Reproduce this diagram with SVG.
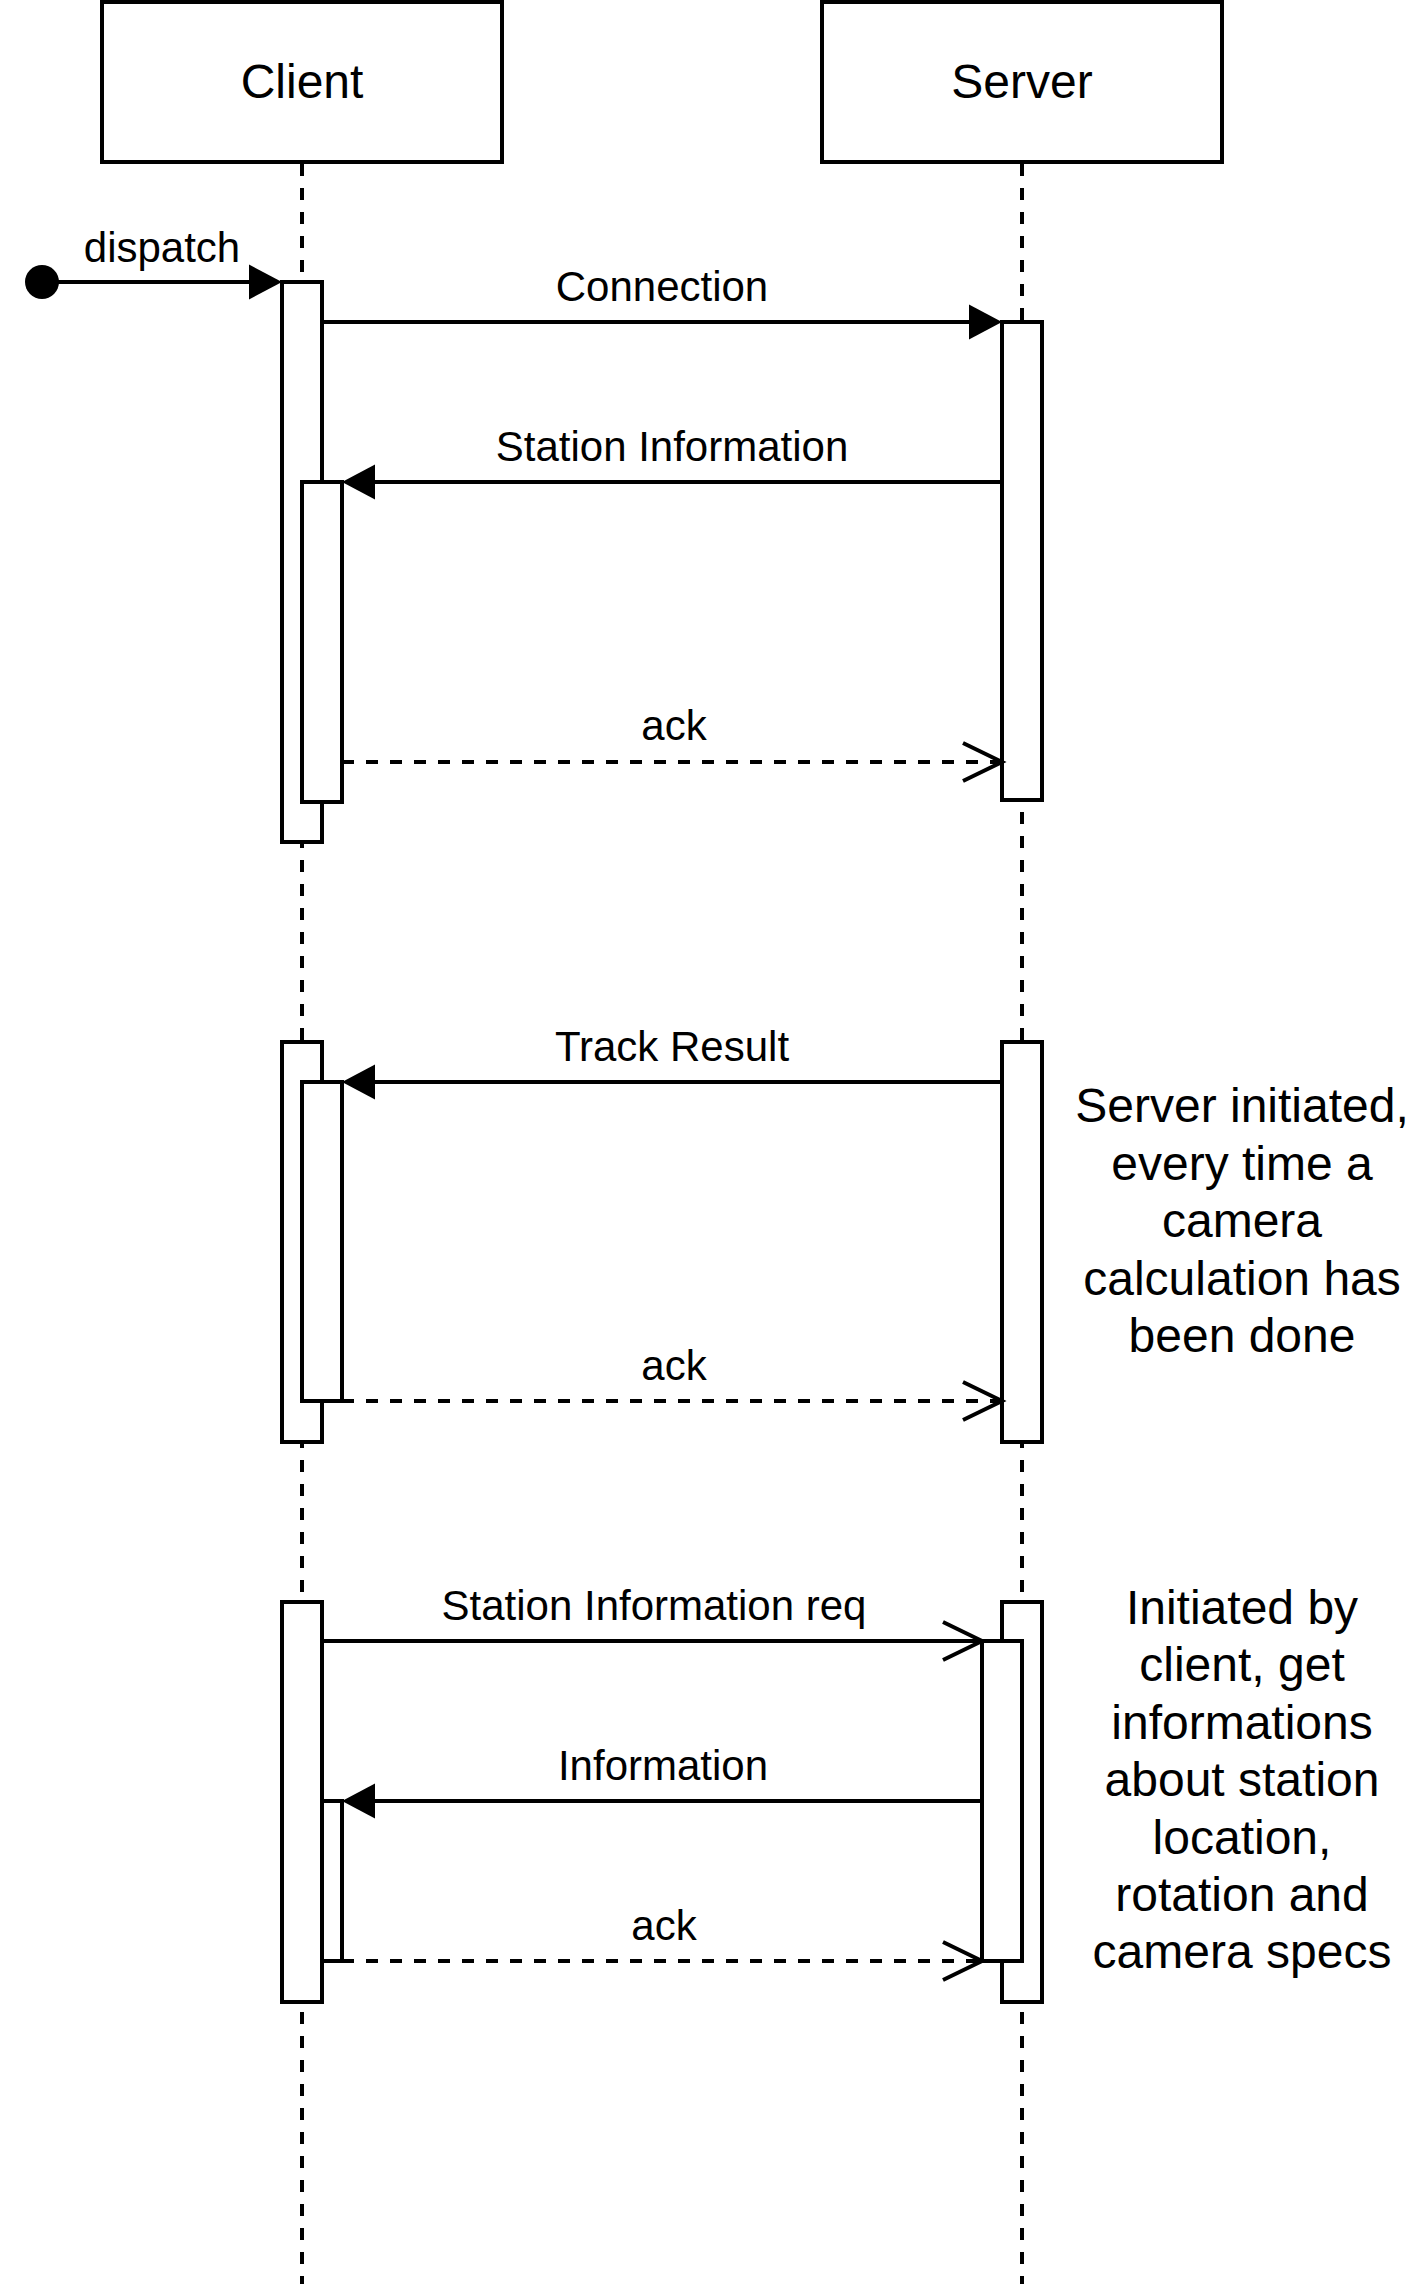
<svg xmlns="http://www.w3.org/2000/svg" width="1424" height="2284" viewBox="0 0 1424 2284">
<style>
text{font-family:"Liberation Sans",Arial,Helvetica,sans-serif;fill:#000;text-anchor:middle}
.head{font-size:48px}
.lbl{font-size:42px}
.note{font-size:48px}
.box{fill:#fff;stroke:#000;stroke-width:4}
.life{stroke:#000;stroke-width:4;stroke-dasharray:12 12;fill:none}
.msg{stroke:#000;stroke-width:4;fill:none}
.ret{stroke:#000;stroke-width:4;fill:none;stroke-dasharray:12 12}
</style>
<defs>
<marker id="filled" markerUnits="userSpaceOnUse" markerWidth="36" markerHeight="38" refX="0" refY="17.5" orient="auto" overflow="visible">
<path d="M0,0 L33,17.5 L0,35 Z" fill="#000"/>
</marker>
<marker id="open" markerUnits="userSpaceOnUse" markerWidth="44" markerHeight="44" refX="39" refY="19" orient="auto" overflow="visible">
<path d="M0,0 L39,19 L0,38" fill="none" stroke="#000" stroke-width="4"/>
</marker>
</defs>

<g id="lifeline-client">
<line class="life" x1="302" y1="164" x2="302" y2="2284"/>
<rect class="box" x="102" y="2" width="400" height="160"/>
<text class="head" x="302" y="98">Client</text>
</g>
<g id="lifeline-server">
<line class="life" x1="1022" y1="164" x2="1022" y2="2284"/>
<rect class="box" x="822" y="2" width="400" height="160"/>
<text class="head" x="1022" y="98">Server</text>
</g>

<g id="act-client-1"><rect class="box" x="282" y="282" width="40" height="560"/></g>
<g id="act-client-1b"><rect class="box" x="302" y="482" width="40" height="320"/></g>
<g id="act-server-1"><rect class="box" x="1002" y="322" width="40" height="478"/></g>

<g id="act-client-2"><rect class="box" x="282" y="1042" width="40" height="400"/></g>
<g id="act-client-2b"><rect class="box" x="302" y="1082" width="40" height="319"/></g>
<g id="act-server-2"><rect class="box" x="1002" y="1042" width="40" height="400"/></g>

<g id="act-client-3b"><rect class="box" x="302" y="1801" width="40" height="160"/></g>
<g id="act-client-3"><rect class="box" x="282" y="1602" width="40" height="400"/></g>
<g id="act-server-3"><rect class="box" x="1002" y="1602" width="40" height="400"/></g>
<g id="act-server-3b"><rect class="box" x="982" y="1641" width="40" height="320"/></g>

<g id="connectors">
<circle cx="42" cy="282" r="17" fill="#000"/>
<line class="msg" x1="42" y1="282" x2="249" y2="282" marker-end="url(#filled)"/>
<text class="lbl" x="162" y="262">dispatch</text>

<line class="msg" x1="322" y1="322" x2="969" y2="322" marker-end="url(#filled)"/>
<text class="lbl" x="662" y="301">Connection</text>

<line class="msg" x1="1002" y1="482" x2="375" y2="482" marker-end="url(#filled)"/>
<text class="lbl" x="672" y="461">Station Information</text>

<line class="ret" x1="342" y1="762" x2="1002" y2="762" marker-end="url(#open)"/>
<text class="lbl" x="674" y="740">ack</text>

<line class="msg" x1="1002" y1="1082" x2="375" y2="1082" marker-end="url(#filled)"/>
<text class="lbl" x="672" y="1061">Track Result</text>

<line class="ret" x1="342" y1="1401" x2="1002" y2="1401" marker-end="url(#open)"/>
<text class="lbl" x="674" y="1380">ack</text>

<line class="msg" x1="322" y1="1641" x2="982" y2="1641" marker-end="url(#open)"/>
<text class="lbl" x="654" y="1620">Station Information req</text>

<line class="msg" x1="982" y1="1801" x2="375" y2="1801" marker-end="url(#filled)"/>
<text class="lbl" x="663" y="1780">Information</text>

<line class="ret" x1="342" y1="1961" x2="982" y2="1961" marker-end="url(#open)"/>
<text class="lbl" x="664" y="1940">ack</text>
</g>

<g id="note-server">
<text class="note" x="1242" y="1122">Server initiated,</text>
<text class="note" x="1242" y="1180">every time a</text>
<text class="note" x="1242" y="1237">camera</text>
<text class="note" x="1242" y="1295">calculation has</text>
<text class="note" x="1242" y="1352">been done</text>
</g>
<g id="note-client">
<text class="note" x="1242" y="1624">Initiated by</text>
<text class="note" x="1242" y="1681">client, get</text>
<text class="note" x="1242" y="1739">informations</text>
<text class="note" x="1242" y="1796">about station</text>
<text class="note" x="1242" y="1854">location,</text>
<text class="note" x="1242" y="1911">rotation and</text>
<text class="note" x="1242" y="1968">camera specs</text>
</g>
</svg>
